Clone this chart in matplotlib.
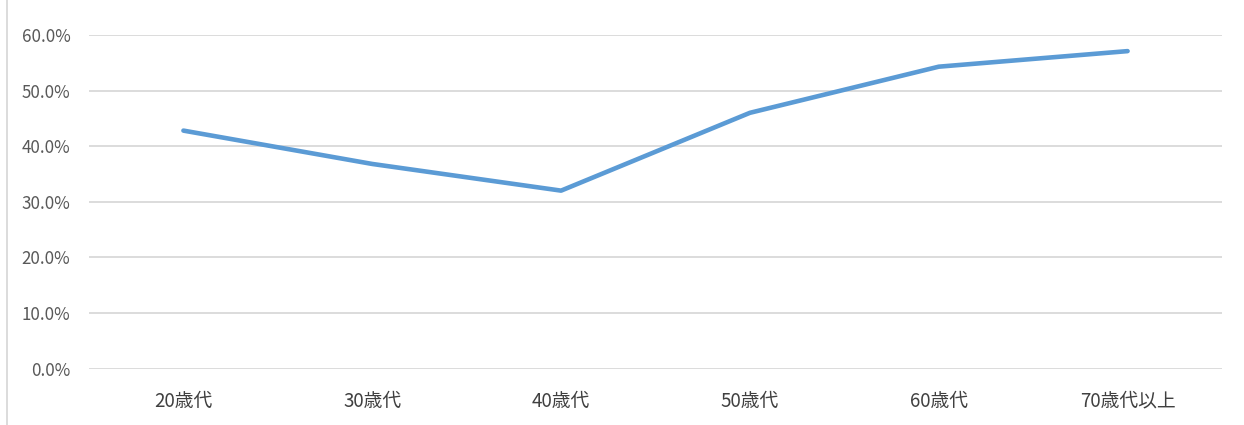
import matplotlib
matplotlib.use("Agg")
import matplotlib.pyplot as plt
from matplotlib.ticker import FuncFormatter, MultipleLocator
from matplotlib.lines import Line2D

plt.rcParams['font.family'] = ['Noto Sans CJK JP', 'DejaVu Sans']

categories = ["20歳代", "30歳代", "40歳代", "50歳代", "60歳代", "70歳代以上"]
values = [0.428, 0.368, 0.320, 0.460, 0.543, 0.571]

W, H = 1244, 425
fig = plt.figure(figsize=(W / 100, H / 100), dpi=100)
ax = fig.add_axes([89 / W, 1 - 368.5 / H, (1222 - 89) / W, (368.5 - 35) / H])

x = list(range(len(categories)))
ax.plot(x, values, color='#5B9BD5', linewidth=3.3, solid_capstyle='round', solid_joinstyle='round', zorder=3)

ax.set_xlim(-0.5, len(categories) - 0.5)
ax.set_ylim(0, 0.6)
ax.yaxis.set_major_locator(MultipleLocator(0.1))
ax.yaxis.set_major_formatter(FuncFormatter(lambda v, p: f"{v*100:.1f}%"))
ax.set_xticks(x)
ax.set_xticklabels(categories)

ax.grid(axis='y', color='#D9D9D9', linewidth=1.3)
ax.set_axisbelow(True)
for s in ax.spines.values():
    s.set_visible(False)
ax.tick_params(axis='both', length=0)
ax.tick_params(axis='y', pad=13.5, labelsize=12.2, colors='#595959')
ax.tick_params(axis='x', pad=16, labelsize=13.5, colors='#404040')

fig.add_artist(Line2D([7.5 / W, 7.5 / W], [0, 1], transform=fig.transFigure, color='#D9D9D9', linewidth=1.3))

fig.savefig("out.png", dpi=100)
